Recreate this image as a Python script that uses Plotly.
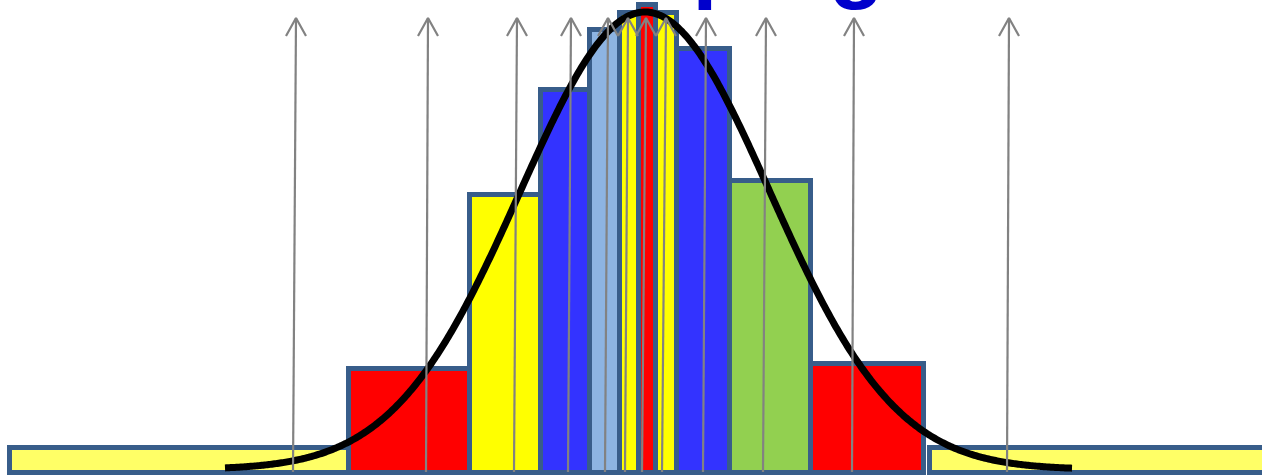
import numpy as np
import plotly.graph_objects as go

# Histogram bins (left/right edges) and bar heights
bin_left = [9.5, 349, 470, 540.5, 589.5, 619.5, 639, 656, 676.5, 730, 811, 929.5]
bin_right = [349, 470, 540.5, 589.5, 619.5, 639, 656, 676.5, 730, 811, 923.5, 1275]
bar_height = [25.5, 104, 278, 383.5, 443, 460, 468.5, 460, 424, 292, 109, 25.5]
bar_color = ["#FFFF66", "#FF0000", "#FFFF00", "#3333FF", "#8DB4E2", "#FFFF00",
             "#FF0000", "#FFFF00", "#3333FF", "#92D050", "#FF0000", "#FFFF66"]

# Fitted normal curve parameters
curve_mean = 645
curve_sd = 125
curve_floor = 3.5
curve_peak = 461
curve_start, curve_end = 225, 1072

# Sample-value arrows: base and tip positions
arrow_base_x = [293, 426, 514, 568, 605, 625, 642, 662, 703, 763, 852, 1007]
arrow_tip_x = [296, 428, 517, 571, 608, 628, 646, 666, 706, 766, 854, 1009]
arrow_bottom, arrow_top = 1, 455

title_text = "Grouping"

centers = [(l + r) / 2 for l, r in zip(bin_left, bin_right)]
widths = [r - l for l, r in zip(bin_left, bin_right)]

fig = go.Figure()
fig.add_trace(go.Bar(
    x=centers, y=bar_height, width=widths,
    marker=dict(color=bar_color, line=dict(color="#385D8A", width=5)),
    hoverinfo="skip",
))

# normal density curve
xs = np.linspace(curve_start, curve_end, 600)
ys = curve_floor + (curve_peak - curve_floor) * np.exp(-0.5 * ((xs - curve_mean) / curve_sd) ** 2)
fig.add_trace(go.Scatter(x=xs, y=ys, mode="lines",
                         line=dict(color="black", width=7, simplify=False),
                         hoverinfo="skip"))

# arrows: shaft plus open chevron head
head_len, head_half = 18, 10
ax, ay = [], []
for xb, xt in zip(arrow_base_x, arrow_tip_x):
    ax += [xb, xt, None, xt - head_half, xt, xt + head_half, None]
    ay += [arrow_bottom, arrow_top, None, arrow_top - head_len, arrow_top, arrow_top - head_len, None]
fig.add_trace(go.Scatter(x=ax, y=ay, mode="lines",
                         line=dict(color="#828282", width=2.2), hoverinfo="skip"))

fig.add_annotation(
    x=473, y=461, xref="x", yref="y", xanchor="left", yanchor="bottom",
    text=f"<b>{title_text}</b>", showarrow=False,
    font=dict(family="Liberation Sans, Arial, sans-serif", size=91, color="#0000CC"),
)

fig.update_layout(
    width=1262, height=476,
    margin=dict(l=0, r=0, t=0, b=0),
    paper_bgcolor="white", plot_bgcolor="white",
    showlegend=False, bargap=0,
    xaxis=dict(range=[0, 1262], visible=False, fixedrange=True),
    yaxis=dict(range=[-3, 473], visible=False, fixedrange=True),
)

fig.write_html("out.html", config={"displayModeBar": False})
